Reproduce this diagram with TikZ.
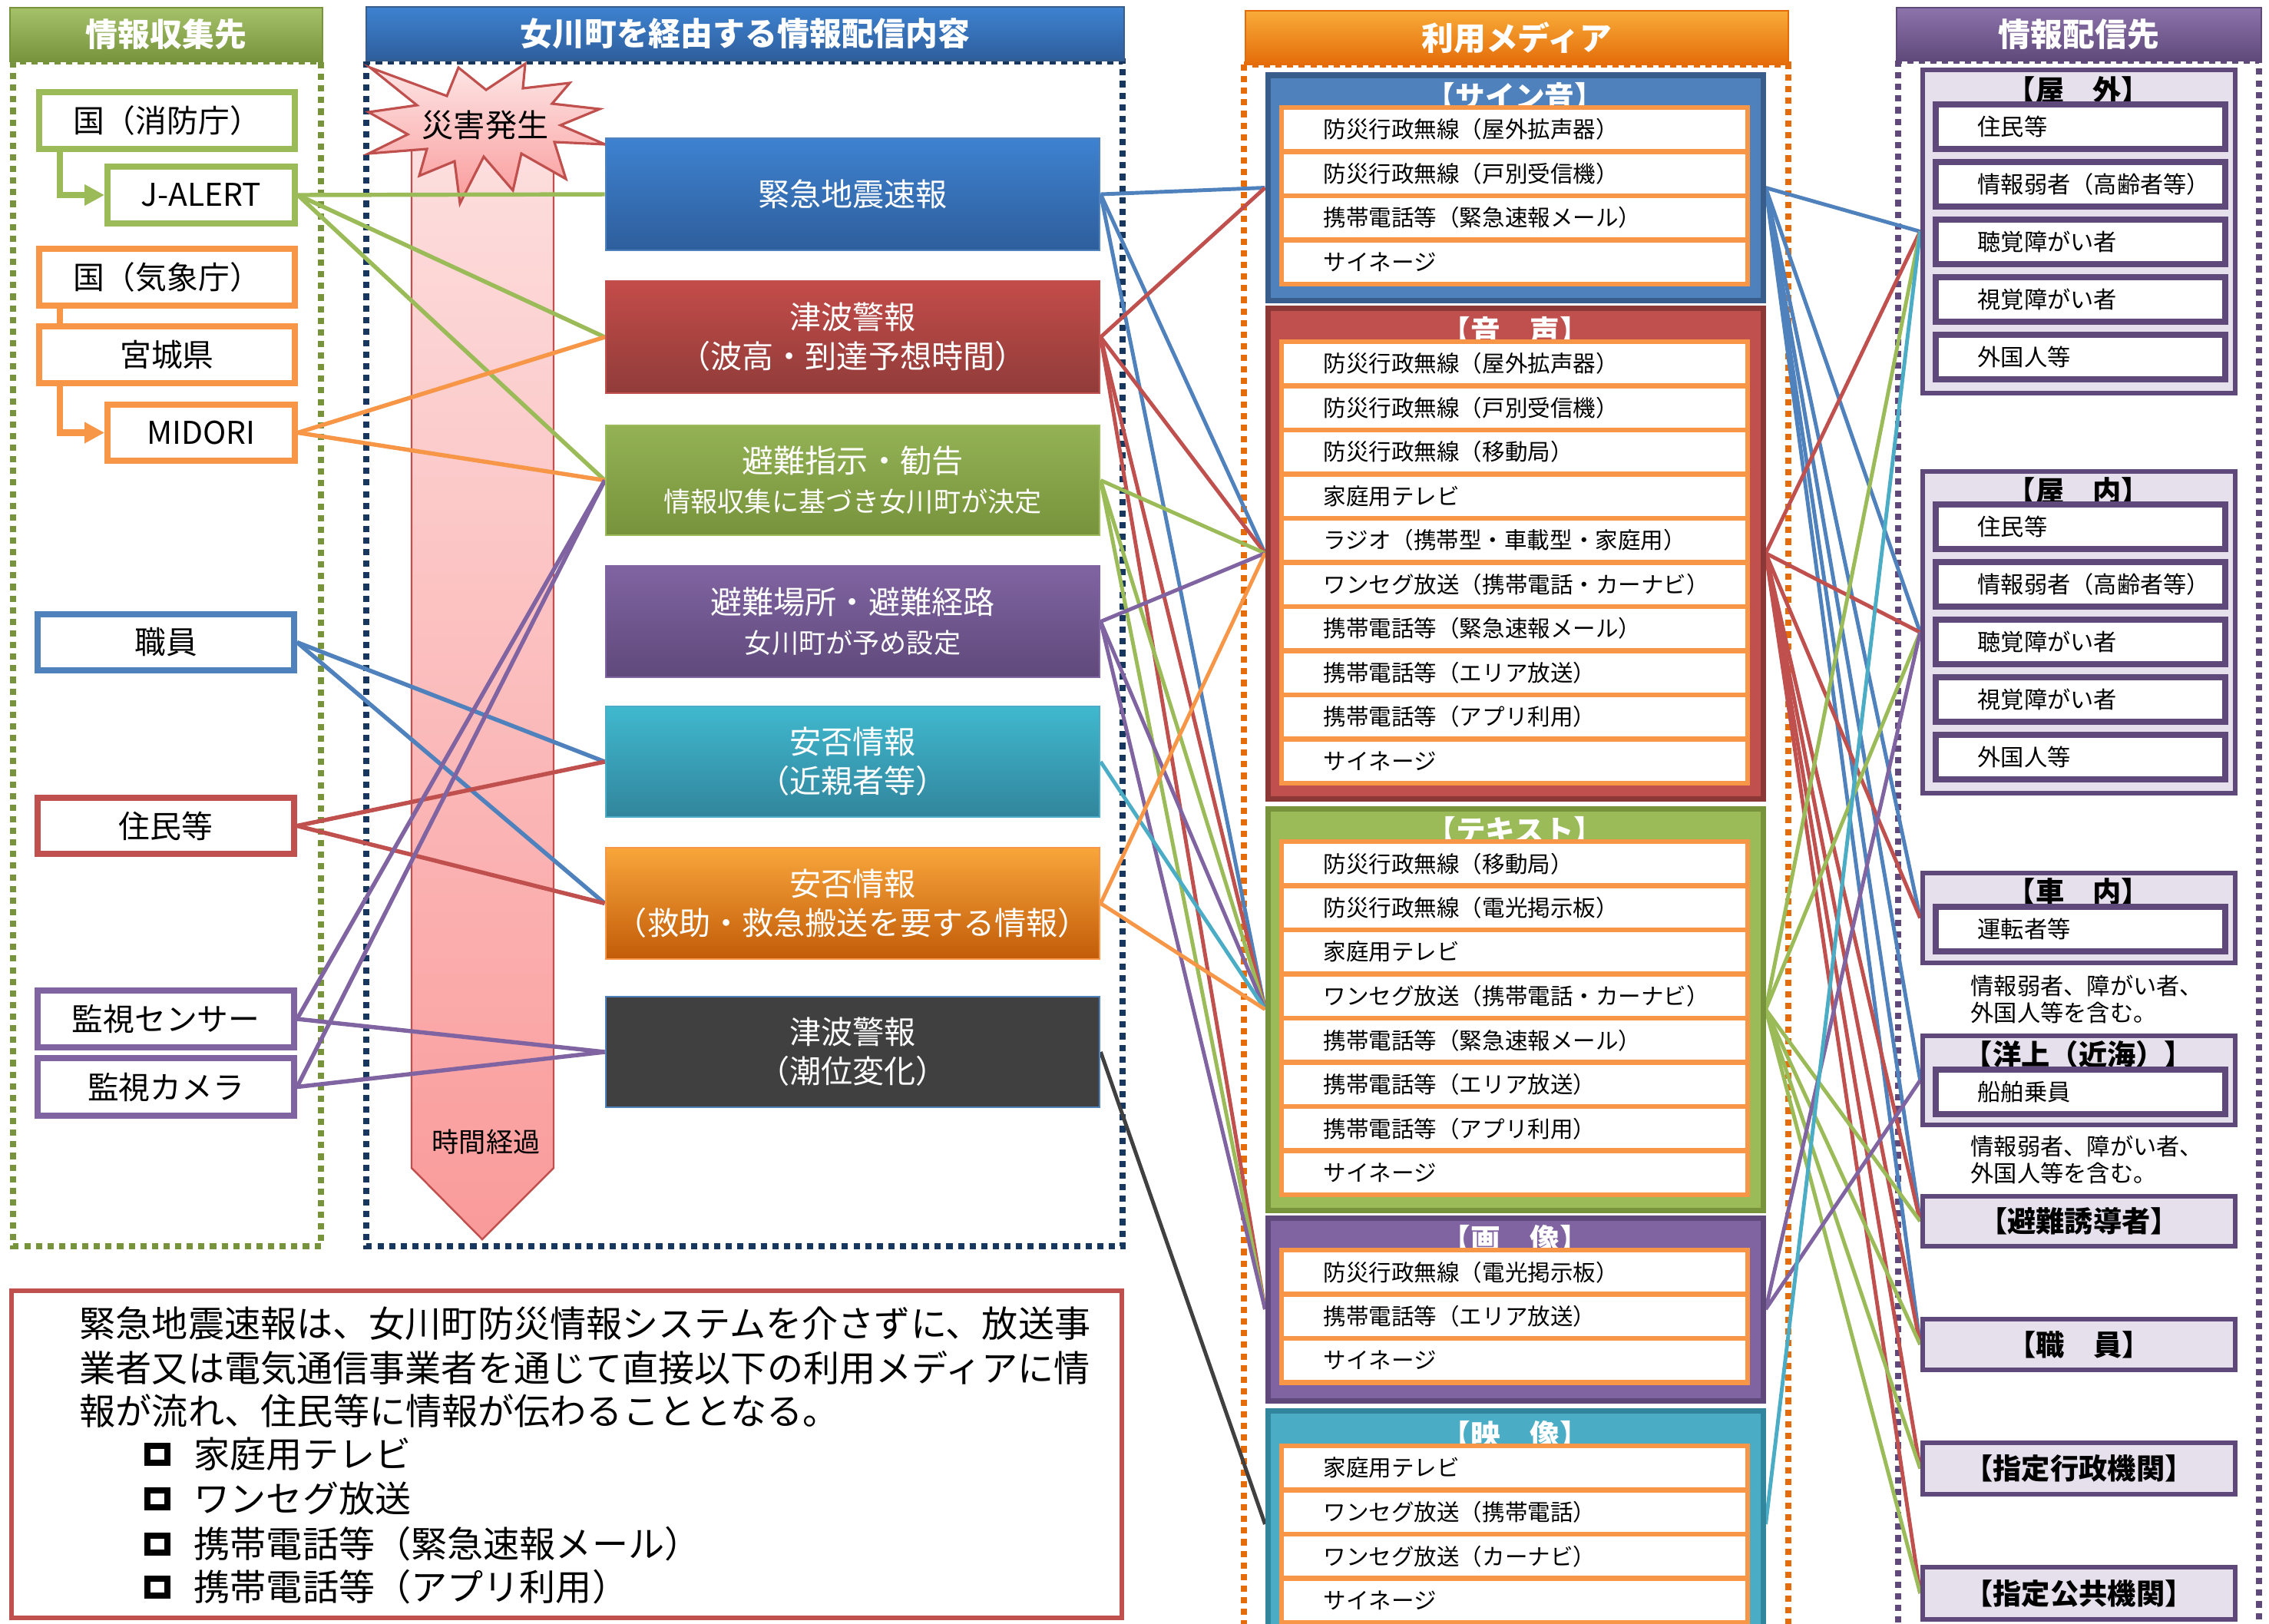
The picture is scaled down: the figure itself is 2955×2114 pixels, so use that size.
\documentclass[tikz,border=0pt]{standalone}
\usepackage{fontspec}
\setmainfont{Noto Sans CJK JP}
\usetikzlibrary{fit,arrows.meta,shadings}
\definecolor{cgreen}{HTML}{9BBB59}
\definecolor{cgreenD}{HTML}{77933C}
\definecolor{corange}{HTML}{F79646}
\definecolor{corangeD}{HTML}{E46C0A}
\definecolor{cblue}{HTML}{4F81BD}
\definecolor{cblueD}{HTML}{385D8A}
\definecolor{cred}{HTML}{C0504D}
\definecolor{credD}{HTML}{8C3836}
\definecolor{cpurple}{HTML}{8064A2}
\definecolor{cpurpleD}{HTML}{5F497A}
\definecolor{ccyan}{HTML}{4BACC6}
\definecolor{ccyanD}{HTML}{31859C}
\definecolor{cdark}{HTML}{404040}
\definecolor{cnavy}{HTML}{17375E}
\definecolor{clav}{HTML}{E5E0EC}
\definecolor{pinkA}{HTML}{FDE0E0}
\definecolor{pinkB}{HTML}{FA9A9A}
\definecolor{eewA}{HTML}{3E82D0}
\definecolor{eewB}{HTML}{2E5E9C}
\pgfdeclarelayer{back}\pgfdeclarelayer{lines}\pgfsetlayers{back,lines,main}
\newcommand\mrows[3]{\foreach \t [count=\i from 0] in {#3}{%
  \node[mrow, fit={(1669,#2+\i*57.5) (2276,#2+57.5+\i*57.5)}] (#1r\i) {};
  \node[mtxt] (#1t\i) at (1723,#2+28.75+\i*57.5) {\t};}}
\newcommand\drows[3]{\foreach \t [count=\i from 0] in {#3}{%
  \node[drow, fit={(2521,#2+\i*75) (2898,#2+58+\i*75)}] (#1r\i) {};
  \node[dtxt] (#1t\i) at (2575,#2+29+\i*75) {\t};}}
\begin{document}
\begin{tikzpicture}[x=0.01cm,y=-0.01cm,
  every node/.style={inner sep=0pt},
  lbox/.style={draw, line width=2.2pt, fill=white, inner sep=0pt},
  ltxt/.style={font=\fontsize{11.6}{13}\selectfont},
  hdr/.style={inner sep=0pt, line width=0.6pt},
  htxt/.style={text=white, font=\fontsize{11.9}{14}\selectfont\bfseries},
  link/.style={line width=1.55pt},
  flink/.style={line width=1.4pt},
  dotborder/.style={line width=2.3pt, dash pattern=on 2.3pt off 2pt},
  cbox/.style={inner sep=0pt, line width=0.8pt},
  ctxt/.style={text=white, align=center, font=\fontsize{11.7}{14.5}\selectfont},
  mgrp/.style={inner sep=0pt, line width=2pt},
  mtitle/.style={text=white, font=\fontsize{11}{12}\selectfont\bfseries},
  mrow/.style={draw=corange, fill=white, line width=1.8pt, inner sep=0pt},
  mtxt/.style={anchor=west, font=\fontsize{8.4}{10}\selectfont},
  dgrp/.style={draw=cpurpleD, fill=clav, line width=1.9pt, inner sep=0pt},
  dtitle/.style={font=\fontsize{10.6}{12}\selectfont\bfseries},
  drow/.style={draw=cpurpleD, fill=white, line width=2.1pt, inner sep=0pt},
  dtxt/.style={anchor=west, font=\fontsize{8.6}{10}\selectfont},
  ntxt/.style={anchor=west, font=\fontsize{13.4}{16}\selectfont},
  bullet/.style={draw=black, line width=2.2pt, minimum width=0.26cm, minimum height=0.22cm},
]
\useasboundingbox (0,0) rectangle (2955,2114);

% ---------- background layer ----------
\begin{pgfonlayer}{back}
\fill[white] (0,0) rectangle (2955,2114);
\draw[dotborder, draw=cgreenD] (17,80) rectangle (418,1623);
\draw[dotborder, draw=cnavy] (477,80) rectangle (1462,1623);
\draw[dotborder, draw=corangeD] (1620,84) rectangle (2329,2250);
\draw[dotborder, draw=cpurpleD] (2472,79) rectangle (2942,2250);
% time arrow
\path[draw=cred, line width=0.7pt, top color=pinkA, bottom color=pinkB]
  (536,150) -- (721,150) -- (721,1521) -- (628,1614) -- (536,1521) -- cycle;
% starburst
\path[draw=cred, line width=0.9pt, top color=pinkA!80!white, bottom color=pinkB]
  (482,88) -- (582,125) -- (597,88) -- (633,117) -- (684,83) -- (681,115)
  -- (742,108) -- (719,135) -- (781,142) -- (730,163) -- (788,188) -- (722,185)
  -- (737,233) -- (679,200) -- (668,248) -- (630,204) -- (599,265) -- (592,210)
  -- (546,229) -- (556,194) -- (480,200) -- (531,175) -- (480,146) -- (543,137) -- cycle;
\end{pgfonlayer}

\node[font=\fontsize{11.7}{14}\selectfont] (burst) at (632,163) {災害発生};
\node[font=\fontsize{10}{12}\selectfont] (jikan) at (633,1487) {時間経過};

% ---------- headers ----------
\node[hdr, top color=cgreen!90!white, bottom color=cgreenD, draw=cgreenD, fit={(13,10) (420,80)}] (h1) {};
\node[htxt] (h1t) at (h1.center) {情報収集先};
\node[hdr, top color=eewA, bottom color=eewB, draw=cblueD, fit={(477,9) (1464,79)}] (h2) {};
\node[htxt] (h2t) at (h2.center) {女川町を経由する情報配信内容};
\node[hdr, top color=corange!80!yellow, bottom color=corangeD, draw=corangeD, fit={(1622,14) (2329,84)}] (h3) {};
\node[htxt] (h3t) at (h3.center) {利用メディア};
\node[hdr, top color=cpurple!90!white, bottom color=cpurpleD, draw=cpurpleD, fit={(2470,10) (2945,79)}] (h4) {};
\node[htxt] (h4t) at (h4.center) {情報配信先};

% ---------- column 1 ----------
\node[lbox, draw=cgreen, fit={(51,120) (384,194)}] (fdma) {};
\node[ltxt] (fdmat) at (fdma.center) {国（消防庁）};
\node[lbox, draw=cgreen, fit={(140,217) (384,291)}] (jalert) {};
\node[ltxt] (jalertt) at (jalert.center) {J-ALERT};
\node[lbox, draw=corange, fit={(51,324) (384,398)}] (jma) {};
\node[ltxt] (jmat) at (jma.center) {国（気象庁）};
\node[lbox, draw=corange, fit={(51,425) (384,499)}] (miyagi) {};
\node[ltxt] (miyagit) at (miyagi.center) {宮城県};
\node[lbox, draw=corange, fit={(140,527) (384,600)}] (midori) {};
\node[ltxt] (midorit) at (midori.center) {MIDORI};
\node[lbox, draw=cblue, fit={(49,800) (383,873)}] (staff) {};
\node[ltxt] (stafft) at (staff.center) {職員};
\node[lbox, draw=cred, fit={(49,1039) (383,1112)}] (resid) {};
\node[ltxt] (residt) at (resid.center) {住民等};
\node[lbox, draw=cpurple, fit={(49,1290) (383,1364)}] (sensor) {};
\node[ltxt] (sensort) at (sensor.center) {監視センサー};
\node[lbox, draw=cpurple, fit={(49,1378) (383,1453)}] (camera) {};
\node[ltxt] (camerat) at (camera.center) {監視カメラ};
\draw[cgreen, line width=2.3pt, -{Triangle[length=7.4pt,width=7.4pt]}] ([xshift=0.31cm]fdma.south west) |- (jalert.west);
\draw[corange, line width=2.3pt] ([xshift=0.31cm]jma.south west) -- ([xshift=0.31cm]miyagi.north west);
\draw[corange, line width=2.3pt, -{Triangle[length=7.4pt,width=7.4pt]}] ([xshift=0.31cm]miyagi.south west) |- (midori.west);

% ---------- column 2 ----------
\node[cbox, top color=eewA, bottom color=eewB, draw=cblue, fit={(789,180) (1432,326)}] (eew) {};
\node[ctxt] (eewt) at (eew.center) {緊急地震速報};
\node[cbox, top color=cred!95!red, bottom color=cred!75!black, draw=cred, fit={(789,366) (1432,512)}] (tsu) {};
\node[ctxt] (tsut) at (tsu.center) {津波警報\\（波高・到達予想時間）};
\node[cbox, top color=cgreen!95!black, bottom color=cgreenD, draw=cgreen, fit={(789,554) (1432,697)}] (hin) {};
\node[ctxt] (hint) at (hin.center) {避難指示・勧告\\{\fontsize{10}{12}\selectfont 情報収集に基づき女川町が決定}};
\node[cbox, top color=cpurple, bottom color=cpurpleD, draw=cpurple, fit={(789,737) (1432,882)}] (bas) {};
\node[ctxt] (bast) at (bas.center) {避難場所・避難経路\\{\fontsize{10}{12}\selectfont 女川町が予め設定}};
\node[cbox, top color=ccyan!85!cyan, bottom color=ccyanD, draw=ccyan, fit={(789,920) (1432,1064)}] (an1) {};
\node[ctxt] (an1t) at (an1.center) {安否情報\\（近親者等）};
\node[cbox, top color=corange!85!yellow, bottom color=corangeD!85!black, draw=corange, fit={(789,1104) (1432,1249)}] (an2) {};
\node[ctxt] (an2t) at (an2.center) {安否情報\\（救助・救急搬送を要する情報）};
\node[cbox, fill=cdark, draw=cblue, fit={(789,1298) (1432,1442)}] (choi) {};
\node[ctxt] (choit) at (choi.center) {津波警報\\（潮位変化）};

% ---------- column 3 ----------
\node[mgrp, fill=cblue, draw=cblueD, fit={(1651,98) (2296,391)}] (g1) {};
\node[mtitle] (g1h) at (1973,126) {【サイン音】};
\mrows{g1}{140}{防災行政無線（屋外拡声器）,防災行政無線（戸別受信機）,携帯電話等（緊急速報メール）,サイネージ}
\node[mgrp, fill=cred, draw=credD, fit={(1651,401) (2296,1040)}] (g2) {};
\node[mtitle] (g2h) at (1973,431) {【音　声】};
\mrows{g2}{445}{防災行政無線（屋外拡声器）,防災行政無線（戸別受信機）,防災行政無線（移動局）,家庭用テレビ,ラジオ（携帯型・車載型・家庭用）,ワンセグ放送（携帯電話・カーナビ）,携帯電話等（緊急速報メール）,携帯電話等（エリア放送）,携帯電話等（アプリ利用）,サイネージ}
\node[mgrp, fill=cgreen, draw=cgreenD, fit={(1651,1053) (2296,1576)}] (g3) {};
\node[mtitle] (g3h) at (1973,1082) {【テキスト】};
\mrows{g3}{1096}{防災行政無線（移動局）,防災行政無線（電光掲示板）,家庭用テレビ,ワンセグ放送（携帯電話・カーナビ）,携帯電話等（緊急速報メール）,携帯電話等（エリア放送）,携帯電話等（アプリ利用）,サイネージ}
\node[mgrp, fill=cpurple, draw=cpurpleD, fit={(1651,1586) (2296,1824)}] (g4) {};
\node[mtitle] (g4h) at (1973,1614) {【画　像】};
\mrows{g4}{1628}{防災行政無線（電光掲示板）,携帯電話等（エリア放送）,サイネージ}
\node[mgrp, fill=ccyan, draw=ccyanD, fit={(1651,1837) (2296,2133)}] (g5) {};
\node[mtitle] (g5h) at (1973,1869) {【映　像】};
\mrows{g5}{1883}{家庭用テレビ,ワンセグ放送（携帯電話）,ワンセグ放送（カーナビ）,サイネージ}

% ---------- column 4 ----------
\node[dgrp, fit={(2504,91) (2911,512)}] (dA) {};
\node[dtitle] (dAh) at (2707,117) {【屋　外】};
\drows{dA}{136}{住民等,情報弱者（高齢者等）,聴覚障がい者,視覚障がい者,外国人等}
\node[dgrp, fit={(2504,614) (2911,1033)}] (dB) {};
\node[dtitle] (dBh) at (2707,639) {【屋　内】};
\drows{dB}{657}{住民等,情報弱者（高齢者等）,聴覚障がい者,視覚障がい者,外国人等}
\node[dgrp, fit={(2504,1137) (2911,1254)}] (dC) {};
\node[dtitle] (dCh) at (2707,1161) {【車　内】};
\drows{dC}{1181}{運転者等}
\node[dtxt, align=left] (note1) at (2566,1301) {情報弱者、障がい者、\\外国人等を含む。};
\node[dgrp, fit={(2504,1349) (2911,1465)}] (dD) {};
\node[dtitle] (dDh) at (2707,1373) {【洋上（近海）】};
\drows{dD}{1393}{船舶乗員}
\node[dtxt, align=left] (note2) at (2566,1510) {情報弱者、障がい者、\\外国人等を含む。};
\node[dgrp, fit={(2504,1558) (2911,1623)}] (dE) {};
\node[dtitle] (dEt) at (dE.center) {【避難誘導者】};
\node[dgrp, fit={(2504,1718) (2911,1784)}] (dF) {};
\node[dtitle] (dFt) at (dF.center) {【職　員】};
\node[dgrp, fit={(2504,1879) (2911,1946)}] (dG) {};
\node[dtitle] (dGt) at (dG.center) {【指定行政機関】};
\node[dgrp, fit={(2504,2041) (2911,2109)}] (dH) {};
\node[dtitle] (dHt) at (dH.center) {【指定公共機関】};

% ---------- note ----------
\node[draw=cred, line width=1.5pt, fill=white, fit={(15,1681) (1461,2107)}] (note) {};
\node[ntxt] (nl1) at (103,1724) {緊急地震速報は、女川町防災情報システムを介さずに、放送事};
\node[ntxt] (nl2) at (103,1781) {業者又は電気通信事業者を通じて直接以下の利用メディアに情};
\node[ntxt] (nl3) at (103,1837) {報が流れ、住民等に情報が伝わることとなる。};
\node[bullet] (b1) at (205,1894) {};
\node[bullet] (b2) at (205,1952) {};
\node[bullet] (b3) at (205,2011) {};
\node[bullet] (b4) at (205,2067) {};
\node[ntxt] (i1) at (252,1894) {家庭用テレビ};
\node[ntxt] (i2) at (252,1952) {ワンセグ放送};
\node[ntxt] (i3) at (252,2011) {携帯電話等（緊急速報メール）};
\node[ntxt] (i4) at (252,2067) {携帯電話等（アプリ利用）};

% ---------- connectors ----------
\begin{pgfonlayer}{lines}
\draw[link, cgreen] (jalert.east) -- (eew.west);
\draw[link, cgreen] (jalert.east) -- (tsu.west);
\draw[link, cgreen] (jalert.east) -- (hin.west);
\draw[link, corange] (midori.east) -- (tsu.west);
\draw[link, corange] (midori.east) -- (hin.west);
\draw[link, cblue] (staff.east) -- (an1.west);
\draw[link, cblue] (staff.east) -- (an2.west);
\draw[link, cred] (resid.east) -- (an1.west);
\draw[link, cred] (resid.east) -- (an2.west);
\draw[link, cpurple] (sensor.east) -- (hin.west);
\draw[link, cpurple] (sensor.east) -- (choi.west);
\draw[link, cpurple] (camera.east) -- (hin.west);
\draw[link, cpurple] (camera.east) -- (choi.west);
% column 2 -> 3
\foreach \g in {g1,g2,g3} \draw[flink, cblue] (eew.east) -- (\g.west);
\foreach \g in {g1,g2,g3,g4} \draw[flink, cred] (tsu.east) -- (\g.west);
\foreach \g in {g2,g3,g4} \draw[flink, cgreen] (hin.east) -- (\g.west);
\foreach \g in {g2,g3,g4} \draw[flink, cpurple] (bas.east) -- (\g.west);
\draw[flink, ccyan] (an1.east) -- (g3.west);
\foreach \g in {g2,g3} \draw[flink, corange] (an2.east) -- (\g.west);
\draw[flink, cdark] (choi.east) -- (g5.west);
% column 3 -> 4
\foreach \d in {dA,dB,dC,dD,dE,dF} \draw[flink, cblue] (g1.east) -- (\d.west);
\foreach \d in {dA,dB,dC,dE,dF,dG,dH} \draw[flink, cred] (g2.east) -- (\d.west);
\foreach \d in {dA,dB,dE,dF,dG,dH} \draw[flink, cgreen] (g3.east) -- (\d.west);
\foreach \d in {dB,dD} \draw[flink, cpurple] (g4.east) -- (\d.west);
\draw[flink, ccyan] (g5.east) -- (dA.west);
\end{pgfonlayer}
\end{tikzpicture}
\end{document}
